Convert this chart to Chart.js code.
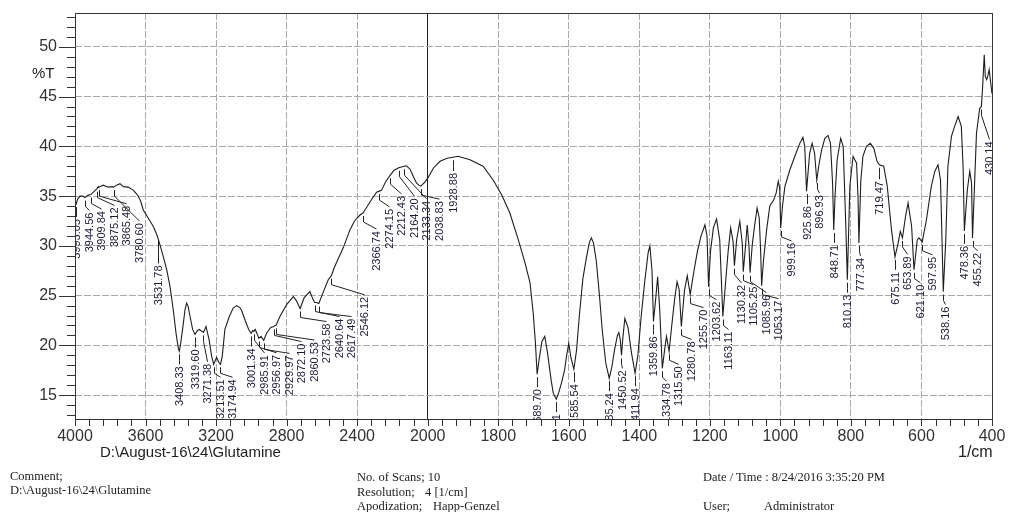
<!DOCTYPE html>
<html>
<head>
<meta charset="utf-8">
<script src="https://cdn.jsdelivr.net/npm/chart.js@4.4.1/dist/chart.umd.min.js"></script>
<style>
  body { margin: 0; background: #fff; }
  #wrap { position: relative; width: 1010px; height: 512px; overflow: hidden; }
  #ir { position: absolute; left: 0; top: 0; }
  .t { position: absolute; white-space: pre; color: #222; }
  .sans { font-family: "Liberation Sans", Arial, sans-serif; font-size: 15px; line-height: 16px; }
  .serif { font-family: "Liberation Serif", "Times New Roman", serif; font-size: 12.5px; line-height: 13px; }
</style>
</head>
<body>
<div id="wrap">
  <canvas id="ir" width="1010" height="512"></canvas>
  <div class="t sans" style="left:32px; top:65px;">%T</div>
  <div class="t sans" style="left:100px; top:444px;">D:\August-16\24\Glutamine</div>
  <div class="t sans" style="left:958px; top:444px; font-size:16px;">1/cm</div>

  <div class="t serif" style="left:10px; top:470px;">Comment;</div>
  <div class="t serif" style="left:10px; top:484px;">D:\August-16\24\Glutamine</div>
  <div class="t serif" style="left:357px; top:471px;">No. of Scans; 10</div>
  <div class="t serif" style="left:357px; top:486px;">Resolution;</div>
  <div class="t serif" style="left:425px; top:486px;">4 [1/cm]</div>
  <div class="t serif" style="left:357px; top:500px;">Apodization;</div>
  <div class="t serif" style="left:433px; top:500px;">Happ-Genzel</div>
  <div class="t serif" style="left:703px; top:471px;">Date / Time : 8/24/2016 3:35:20 PM</div>
  <div class="t serif" style="left:703px; top:500px;">User;</div>
  <div class="t serif" style="left:764px; top:500px;">Administrator</div>
</div>

<script>
// spectrum: [wavenumber 1/cm, %T]
const spectrumHigh = [
  [4000, 34.4], [3993, 34.2], [3985, 34.7], [3972, 35.0], [3955, 35.0], [3944.56, 34.85], [3925, 35.1],
  [3909.84, 35.15], [3890, 35.5], [3875.12, 35.75], [3868, 35.95], [3865.48, 35.9], [3840, 36.1],
  [3811, 35.9], [3786, 35.95], [3780.60, 35.9], [3764, 36.1], [3745, 36.25], [3726, 35.95], [3698, 35.9],
  [3670, 35.6], [3645, 35.1], [3628, 34.5], [3613, 33.6], [3585, 32.8], [3556, 31.95], [3540, 31.3],
  [3531.78, 30.9], [3518, 30.1], [3499, 28.9], [3480, 27.6], [3461, 25.9], [3443, 23.6], [3427, 21.2],
  [3414, 19.7], [3408.33, 19.4], [3400, 20.3], [3390, 21.6], [3376, 23.6], [3367, 24.25], [3358, 23.9],
  [3352, 23.3], [3333, 21.6], [3319.60, 21.1], [3305, 21.5], [3295, 21.6], [3271.38, 21.3], [3257, 21.9],
  [3240, 20.6], [3225, 18.9], [3213.51, 18.1], [3197, 18.8], [3185, 18.3], [3174.94, 18.1], [3165, 18.9],
  [3150, 21.6], [3125, 22.9], [3103, 23.75], [3083, 24.0], [3065, 23.8], [3055, 23.5], [3035, 22.5],
  [3015, 21.6], [3001.34, 21.2], [2992, 21.5], [2985.91, 21.4], [2978, 21.6], [2968, 21.2], [2956.97, 20.7],
  [2945, 20.9], [2929.97, 20.5], [2913, 21.25], [2890, 21.8], [2872.10, 21.9], [2866, 22.0], [2860.53, 22.0],
  [2838, 22.9], [2800, 24.1], [2762, 24.9], [2745, 24.5], [2723.58, 23.7], [2700, 24.8], [2668, 25.4],
  [2650, 24.6], [2640.64, 24.3], [2630, 24.3], [2617.49, 24.2], [2600, 25.0], [2564, 26.6], [2546.12, 27.0],
  [2530, 27.8], [2510, 28.6], [2479, 29.8], [2441, 31.6], [2415, 32.5], [2384, 33.1], [2366.74, 33.3],
  [2356, 33.6], [2320, 34.6], [2290, 35.4], [2274.15, 35.5], [2261, 35.6], [2240, 36.4], [2212.43, 37.1],
  [2190, 37.6], [2164.20, 37.85], [2133.34, 38.0], [2120, 38.05], [2100, 37.7], [2082, 37.0], [2063, 36.3],
  [2050, 36.1], [2038.83, 36.0], [2016, 36.4]
];

const spectrumLow = [
  [2000, 36.8], [1984, 37.8], [1965, 38.5], [1945, 38.8], [1928.88, 38.9], [1914, 39.0], [1880, 38.65],
  [1843, 38.0], [1814, 36.6], [1790, 35.1], [1767, 33.3], [1743, 30.6], [1724, 28.3], [1710, 26.3],
  [1701, 23.3], [1695, 20.5], [1689.70, 17.1], [1684, 18.6], [1676, 20.4], [1668, 20.9], [1660, 19.2],
  [1650, 16.5], [1644, 15.2], [1635.41, 14.6], [1628, 15.3], [1620, 16.3], [1612, 17.5], [1606, 19.0],
  [1600, 20.2], [1594, 18.8], [1585.54, 17.6], [1578, 19.5], [1570, 23.0], [1560, 26.7], [1550, 28.8],
  [1542, 30.3], [1536, 30.8], [1530, 30.3], [1522, 28.5], [1513, 25.0], [1505, 21.5], [1495, 18.2],
  [1485.24, 16.7], [1478, 17.8], [1470, 19.6], [1462, 21.0], [1458, 21.3], [1454, 20.6], [1450.52, 19.0],
  [1446, 21.0], [1441, 22.7], [1432, 21.8], [1422, 19.2], [1411.94, 17.2], [1404, 19.0], [1395, 22.8],
  [1385, 26.3], [1375, 29.3], [1370, 30.0], [1364, 27.5], [1359.86, 22.4], [1354, 24.5], [1348, 26.9],
  [1342, 23.5], [1334.78, 17.7], [1328, 19.6], [1323, 20.9], [1315.50, 19.4], [1308, 22.0], [1300, 24.6],
  [1293, 26.4], [1287, 25.6], [1280.78, 21.9], [1272, 25.5], [1264, 27.0], [1255.70, 25.1], [1245, 27.5],
  [1235, 29.5], [1225, 31.0], [1214, 32.1], [1208, 31.0], [1203.62, 25.9], [1198, 29.5], [1190, 31.8],
  [1181, 32.7], [1172, 30.6], [1163.11, 22.9], [1155, 26.5], [1148, 29.5], [1141, 31.8], [1134, 30.4],
  [1130.32, 28.0], [1124, 30.6], [1115, 32.45], [1108, 30.2], [1105.25, 27.4], [1100, 29.5], [1094, 32.1],
  [1089, 29.9], [1085.96, 27.3], [1080, 30.0], [1074, 31.8], [1066, 33.8], [1060, 32.8], [1056, 29.5],
  [1053.17, 26.0], [1048, 28.5], [1039, 31.6], [1030, 34.0], [1019, 34.6], [1012, 35.3], [1006, 36.5],
  [1002, 35.8], [999.16, 31.8], [994, 34.0], [987, 36.0], [973, 37.65], [959, 39.0], [945, 40.3],
  [936, 40.9], [931, 40.0], [925.86, 35.5], [917, 39.3], [910, 40.3], [903, 39.3], [896.93, 36.6],
  [890, 38.3], [883, 39.65], [874, 40.8], [865, 41.1], [858, 40.3], [852, 36.3], [848.71, 31.6],
  [845, 35.0], [839, 38.65], [829, 40.8], [822, 40.0], [815, 32.6], [810.13, 26.6], [803, 36.0],
  [794, 39.0], [784, 38.3], [780, 35.0], [777.34, 30.3], [772, 36.5], [766, 39.0], [756, 40.0],
  [745, 40.3], [735, 39.8], [726, 38.5], [719.47, 38.15], [707, 38.0], [697, 36.0], [685, 31.6],
  [675.11, 28.9], [666, 30.3], [660, 31.45], [653.89, 30.8], [645, 33.0], [638, 34.3], [628, 32.0],
  [621.10, 27.6], [612, 30.6], [607, 30.8], [597.95, 30.4], [586, 32.6], [572, 36.0], [562, 37.5],
  [553, 38.15], [546, 36.6], [542, 31.0], [538.16, 25.4], [531, 30.6], [525, 38.0], [515, 41.0],
  [506, 42.0], [496, 43.0], [487, 42.0], [482, 38.0], [478.36, 31.5], [470, 35.6], [463, 37.5],
  [458, 36.3], [455.22, 30.8], [444, 41.3], [435, 43.8], [430.14, 44.0], [427, 45.7], [422, 49.2],
  [419, 47.0], [415, 46.7], [411, 47.2], [408, 47.7], [400, 45.3]
];

const peakLabels = [
  '3993.05', '3944.56', '3909.84', '3875.12', '3865.48', '3780.60', '3531.78', '3408.33', '3319.60',
  '3271.38', '3213.51', '3174.94', '3001.34', '2985.91', '2956.97', '2929.97', '2872.10', '2860.53',
  '2723.58', '2640.64', '2617.49', '2546.12', '2366.74', '2274.15', '2212.43', '2164.20', '2133.34',
  '2038.83', '1928.88', '1689.70', '1635.41', '1585.54', '1485.24', '1450.52', '1411.94', '1359.86',
  '1334.78', '1315.50', '1280.78', '1255.70', '1203.62', '1163.11', '1130.32', '1105.25', '1085.96',
  '1053.17', '999.16', '925.86', '896.93', '848.71', '810.13', '777.34', '719.47', '675.11', '653.89',
  '621.10', '597.95', '538.16', '478.36', '455.22', '430.14'
];

const yRange = [12.6, 53.4];
const xBreak = 2000; // scale is compressed 2x above this wavenumber

// axis coordinate: wavenumbers above 2000 take half the room
const toAxis = wn => wn <= xBreak ? wn : xBreak + (wn - xBreak) / 2;
const fromAxis = u => u <= xBreak ? u : xBreak + (u - xBreak) * 2;

const spectrum = spectrumHigh.concat(spectrumLow);
const points = spectrum.map(([wn, t]) => ({ x: toAxis(wn), y: t }));

Chart.defaults.font.family = '"Liberation Sans", Arial, sans-serif';
Chart.defaults.color = '#333';

function curveYAt(pts, xp) {
  if (xp <= pts[0].x) return pts[0].y;
  for (let i = 0; i < pts.length - 1; i++) {
    const a = pts[i], b = pts[i + 1];
    if (xp >= a.x && xp <= b.x) {
      const f = b.x === a.x ? 0 : (xp - a.x) / (b.x - a.x);
      return a.y + f * (b.y - a.y);
    }
  }
  return pts[pts.length - 1].y;
}

const frameAndTicks = {
  id: 'frameAndTicks',
  afterDraw(chart) {
    const { ctx, chartArea: ca, scales: { x, y } } = chart;
    ctx.save();
    ctx.strokeStyle = '#333';
    ctx.lineWidth = 1;
    ctx.strokeRect(Math.round(ca.left) + 0.5, Math.round(ca.top) + 0.5,
      Math.round(ca.right - ca.left), Math.round(ca.bottom - ca.top));
    ctx.beginPath();
    y.ticks.forEach(t => {
      const py = Math.round(y.getPixelForValue(t.value)) + 0.5;
      const len = t.value % 5 === 0 ? 16 : 8;
      ctx.moveTo(ca.left - len, py);
      ctx.lineTo(ca.left, py);
    });
    x.ticks.forEach(t => {
      const px = Math.round(x.getPixelForValue(t.value)) + 0.5;
      ctx.moveTo(px, ca.bottom);
      ctx.lineTo(px, ca.bottom + 7);
    });
    ctx.stroke();
    ctx.restore();
  }
};

const peakLabelsPlugin = {
  id: 'peakLabels',
  afterDatasetsDraw(chart) {
    const { ctx, chartArea: ca, scales: { x, y } } = chart;
    const pts = chart.getDatasetMeta(0).data.map(p => ({ x: p.x, y: p.y }));
    const items = peakLabels.map(txt => {
      const wn = parseFloat(txt);
      let best = spectrum[0];
      spectrum.forEach(p => { if (Math.abs(p[0] - wn) < Math.abs(best[0] - wn)) best = p; });
      return { txt, px: x.getPixelForValue(toAxis(wn)), py: y.getPixelForValue(best[1]) };
    }).sort((a, b) => a.px - b.px);

    let last = -Infinity;
    items.forEach(it => { it.lx = Math.max(it.px, last + 12.5); last = it.lx; });

    ctx.save();
    ctx.beginPath();
    ctx.rect(ca.left, ca.top, ca.right - ca.left, ca.bottom - ca.top);
    ctx.clip();
    ctx.font = '11px "Liberation Sans", Arial, sans-serif';
    ctx.lineWidth = 1;
    ctx.strokeStyle = '#222';
    ctx.fillStyle = '#1a1a3c';
    items.forEach(it => {
      let base = it.py;
      const x0 = Math.min(it.px, it.lx) - 4, x1 = Math.max(it.px, it.lx) + 4;
      for (let xp = x0; xp <= x1; xp += 1) base = Math.max(base, curveYAt(pts, xp));
      const top = base + 15;
      const px = Math.round(it.px) + 0.5, lx = Math.round(it.lx) + 0.5;
      ctx.beginPath();
      ctx.moveTo(px, it.py + 3);
      ctx.lineTo(px, it.py + 9);
      ctx.lineTo(lx, top - 2);
      ctx.stroke();
      ctx.save();
      ctx.translate(lx, top);
      ctx.rotate(-Math.PI / 2);
      ctx.textAlign = 'right';
      ctx.textBaseline = 'middle';
      ctx.fillText(it.txt, 0, 0);
      ctx.restore();
    });
    ctx.restore();
  }
};

new Chart(document.getElementById('ir'), {
  type: 'line',
  data: {
    datasets: [{
      data: points,
      borderColor: '#1e1e1e',
      borderWidth: 1.1,
      pointRadius: 0,
      tension: 0,
      fill: false
    }]
  },
  options: {
    responsive: false,
    animation: false,
    layout: { padding: { top: 13, right: 18, left: 0, bottom: 0 } },
    plugins: { legend: { display: false }, tooltip: { enabled: false } },
    scales: {
      x: {
        type: 'linear',
        reverse: true,
        min: toAxis(400),
        max: toAxis(4000),
        afterBuildTicks: s => {
          const ticks = [];
          for (let u = s.min; u <= s.max; u += 40) ticks.push({ value: u });
          s.ticks = ticks;
        },
        afterFit: s => { s.height = 93; },
        ticks: {
          autoSkip: false,
          maxRotation: 0,
          padding: 0,
          font: { size: 16 },
          color: '#333',
          callback: v => v % 200 === 0 ? String(fromAxis(v)) : ''
        },
        grid: {
          drawTicks: true,
          tickLength: 8,
          tickColor: 'rgba(0,0,0,0)',
          color: c => {
            const v = c.tick ? c.tick.value : null;
            if (v === xBreak) return '#222';
            return v !== null && v % 200 === 0 ? '#aaa' : 'rgba(0,0,0,0)';
          }
        },
        border: {
          display: false,
          dash: c => (c.tick && c.tick.value === xBreak) ? [] : [7, 2]
        }
      },
      y: {
        type: 'linear',
        min: yRange[0],
        max: yRange[1],
        afterBuildTicks: s => {
          const ticks = [];
          for (let v = Math.ceil(s.min); v <= Math.floor(s.max); v++) ticks.push({ value: v });
          s.ticks = ticks;
        },
        afterFit: s => { s.width = 75; },
        ticks: {
          autoSkip: false,
          padding: 0,
          font: { size: 16 },
          color: '#333',
          callback: v => v % 5 === 0 ? String(v) : ''
        },
        grid: {
          drawTicks: true,
          tickLength: 18,
          tickColor: 'rgba(0,0,0,0)',
          color: c => (c.tick && c.tick.value % 5 === 0) ? '#aaa' : 'rgba(0,0,0,0)'
        },
        border: { display: false, dash: [7, 2] }
      }
    }
  },
  plugins: [peakLabelsPlugin, frameAndTicks]
});
</script>
</body>
</html>
